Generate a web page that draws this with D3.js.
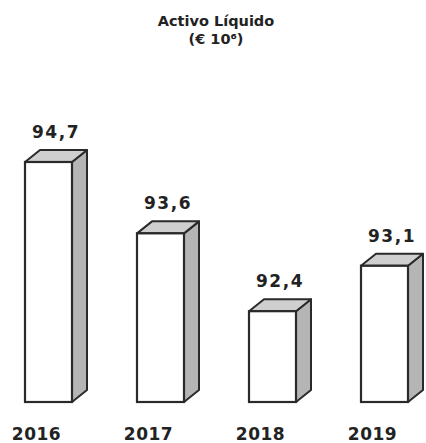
<!DOCTYPE html>
<html>
<head>
<meta charset="utf-8">
<script src="https://cdn.jsdelivr.net/npm/d3@7"></script>
<style>
  body { margin: 0; background: #fff; }
  text { font-family: "DejaVu Sans", sans-serif; font-weight: bold; fill: #222; }
</style>
</head>
<body>
<div id="chart"></div>
<script>
var years = ["2016", "2017", "2018", "2019"];
var values = [94.7, 93.6, 92.4, 93.1];
var labels = ["94,7", "93,6", "92,4", "93,1"];

var width = 426, height = 443;
var depthX = 15, depthY = 12;
var bottom = 402;
var barW = 47;

var svg = d3.select("#chart").append("svg")
    .attr("width", width)
    .attr("height", height);

// front faces start near 25, 139, 248, 360
var x = d3.scalePoint().domain(years).range([25, 361]);

var y = d3.scaleLinear()
    .domain([91, 94.7])
    .range([bottom, 162]);

var data = years.map(function(d, i) { return { year: d, value: values[i], label: labels[i] }; });

var bar = svg.selectAll(".bar")
    .data(data)
    .enter().append("g")
    .attr("class", "bar");

// side face
bar.append("path")
    .attr("d", function(d) {
        var x0 = x(d.year) + barW, t = y(d.value);
        return "M" + x0 + "," + t + " L" + (x0 + depthX) + "," + (t - depthY) +
            " L" + (x0 + depthX) + "," + (bottom - depthY) + " L" + x0 + "," + bottom + " Z";
    })
    .attr("fill", "#b5b5b5")
    .attr("stroke", "#2a2a2a")
    .attr("stroke-width", 2)
    .attr("stroke-linejoin", "round");

// top face
bar.append("path")
    .attr("d", function(d) {
        var x0 = x(d.year), t = y(d.value);
        return "M" + x0 + "," + t + " L" + (x0 + depthX) + "," + (t - depthY) +
            " L" + (x0 + barW + depthX) + "," + (t - depthY) + " L" + (x0 + barW) + "," + t + " Z";
    })
    .attr("fill", "#cfcfcf")
    .attr("stroke", "#2a2a2a")
    .attr("stroke-width", 2)
    .attr("stroke-linejoin", "round");

// front face
bar.append("rect")
    .attr("x", function(d) { return x(d.year); })
    .attr("y", function(d) { return y(d.value); })
    .attr("width", barW)
    .attr("height", function(d) { return bottom - y(d.value); })
    .attr("fill", "#fff")
    .attr("stroke", "#2a2a2a")
    .attr("stroke-width", 2.2);

// value labels
bar.append("text")
    .attr("x", function(d) { return x(d.year) + (barW + depthX) / 2; })
    .attr("y", function(d) { return y(d.value) - depthY - 12; })
    .attr("text-anchor", "middle")
    .style("font-size", "17px")
    .style("letter-spacing", "1.5px")
    .text(function(d) { return d.label; });

// year labels
bar.append("text")
    .attr("x", function(d) { return x(d.year) + barW / 2 - 12; })
    .attr("y", 440)
    .attr("text-anchor", "middle")
    .style("font-size", "17px")
    .style("letter-spacing", "0.5px")
    .text(function(d) { return d.year; });

// title
svg.append("text")
    .attr("x", 216).attr("y", 26)
    .attr("text-anchor", "middle")
    .style("font-size", "14.5px")
    .text("Activo Líquido");
svg.append("text")
    .attr("x", 216).attr("y", 44)
    .attr("text-anchor", "middle")
    .style("font-size", "14.5px")
    .text("(€ 10⁶)");
</script>
</body>
</html>
